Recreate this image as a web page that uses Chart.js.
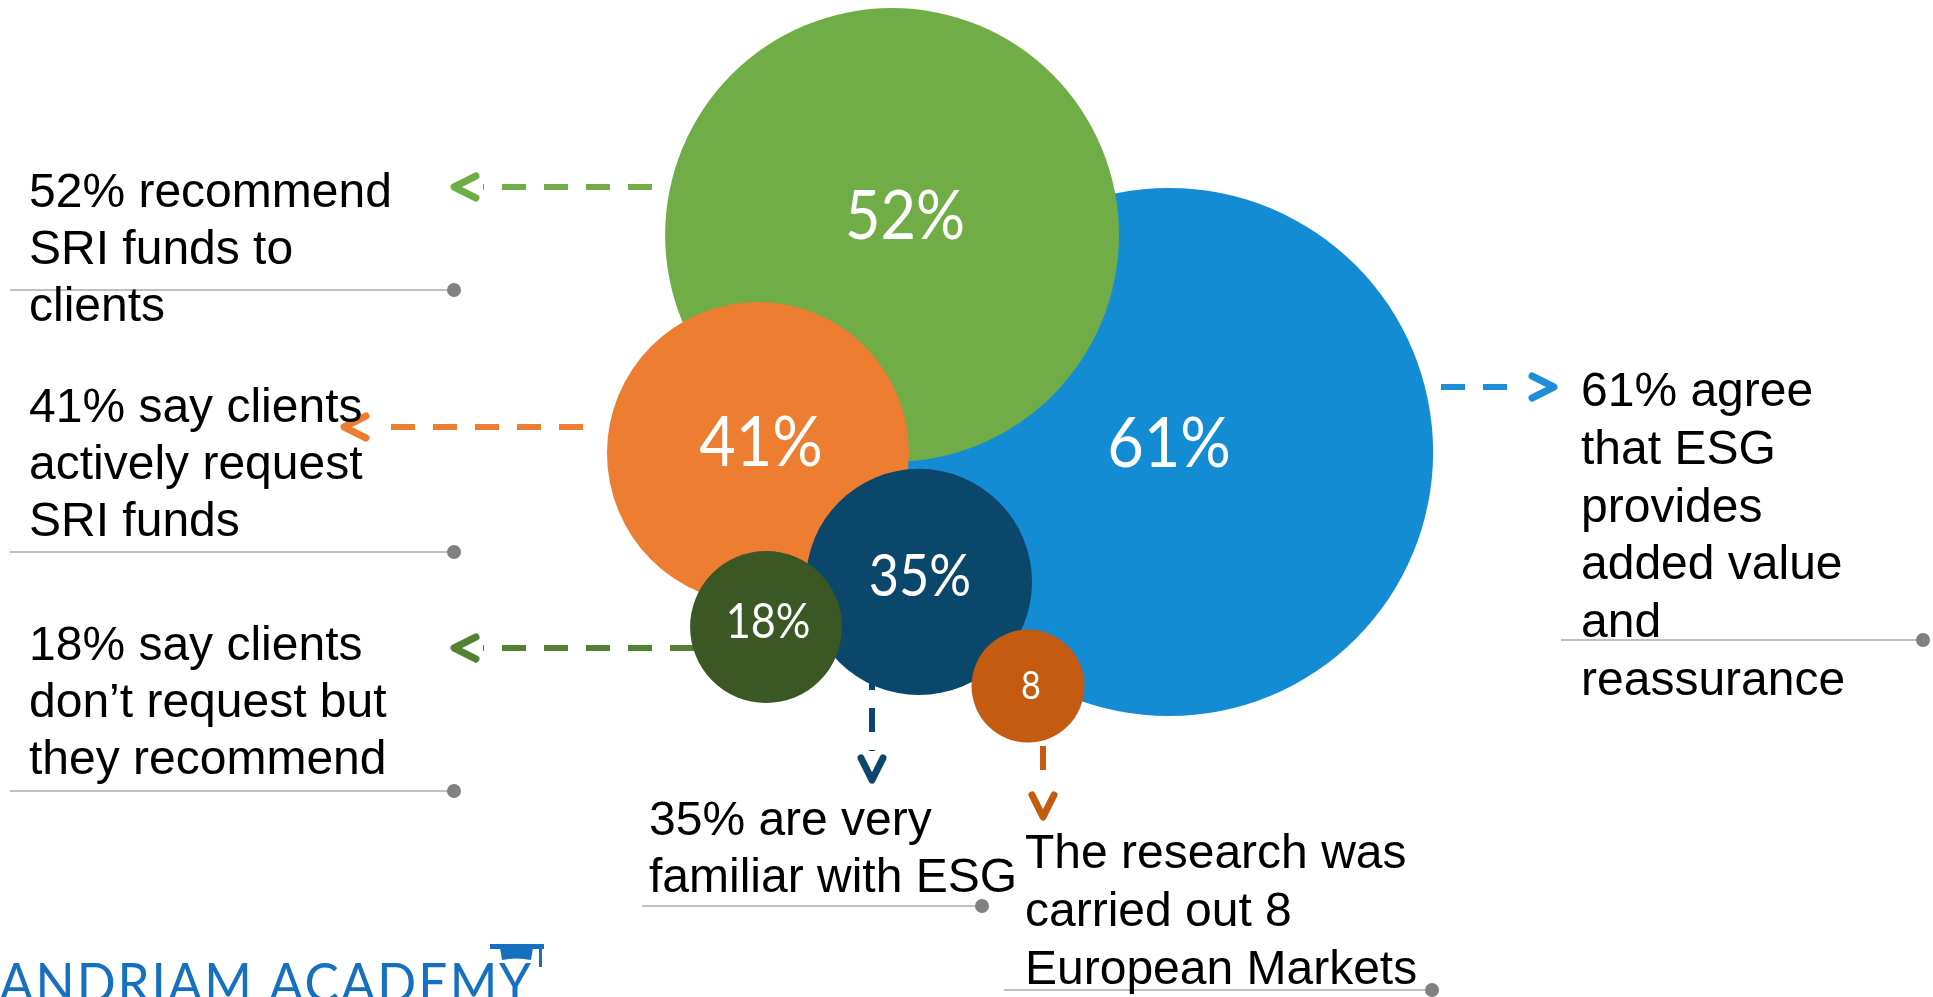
<!DOCTYPE html>
<html>
<head>
<meta charset="utf-8">
<title>ESG survey bubbles</title>
<script src="https://cdn.jsdelivr.net/npm/chart.js@4.4.1/dist/chart.umd.min.js"></script>
<style>
  html, body { margin: 0; padding: 0; background: #fff; overflow: hidden; }
  #wrap { position: relative; width: 1933px; height: 997px; }
</style>
</head>
<body>
<div id="wrap"><canvas id="chart-bubbles"></canvas></div>
<script>
// Survey figures, listed back to front (draw order)
const bubbleLabels = ['61%', '52%', '41%', '35%', '18%', '8'];
const bubbleValues = [61, 52, 41, 35, 18, 8];

const calloutLines = [
  ['61% agree', 'that ESG', 'provides', 'added value', 'and', 'reassurance'],
  ['52% recommend', 'SRI funds to', 'clients'],
  ['41% say clients', 'actively request', 'SRI funds'],
  ['35% are very', 'familiar with ESG'],
  ['18% say clients', 'don\u2019t request but', 'they recommend'],
  ['The research was', 'carried out 8', 'European Markets']
];

// Layout on a 0-100 grid (x across, y down) - placement only, not data
const bubbleX = [60.48, 46.15, 39.21, 47.54, 39.63, 53.18];
const bubbleY = [45.34, 23.57, 45.44, 58.37, 62.89, 68.81];
const bubbleSize = [13.66, 11.74, 7.81, 5.85, 3.93, 2.92];
const bubbleColors = ['#138cd4', '#70ad47', '#ed7d31', '#0a476b', '#3b5724', '#c55a11'];
const labelFont = [70, 68, 70, 58, 48, 38];
const labelShift = [[0, -10], [13, -20], [3, -12], [1, -7], [2, -6], [3, -1]];

// callout placement in px: text origin, grey rule, dashed arrow
const callouts = [
  { x: 1581, y: 406, lh: 57.8, rule: [1561, 1923, 640], arrow: [1441, 387, 1554, 387], color: '#1e8fd6' },
  { x: 29, y: 207, lh: 57, rule: [10, 454, 290], arrow: [652, 187, 454, 187], color: '#70ad47' },
  { x: 29, y: 422, lh: 57, rule: [10, 454, 552], arrow: [583, 427, 344, 427], color: '#ed7d31' },
  { x: 649, y: 835, lh: 57, rule: [642, 982, 906], arrow: [872, 666, 872, 780], color: '#0a476b' },
  { x: 29, y: 660, lh: 57, rule: [10, 454, 791], arrow: [694, 648, 454, 648], color: '#548235' },
  { x: 1025, y: 868, lh: 58, rule: [1004, 1432, 990], arrow: [1043, 746, 1043, 817], color: '#c55a11' }
];

function drawArrow(ctx, a, color) {
  const [x1, y1, x2, y2] = a;
  const len = Math.hypot(x2 - x1, y2 - y1);
  const ux = (x2 - x1) / len, uy = (y2 - y1) / len;
  ctx.save();
  ctx.strokeStyle = color;
  ctx.lineWidth = 6;
  ctx.setLineDash([24, 18]);
  ctx.beginPath();
  ctx.moveTo(x1, y1);
  ctx.lineTo(x2 - ux * 29, y2 - uy * 29);
  ctx.stroke();
  ctx.setLineDash([]);
  ctx.lineWidth = 7;
  ctx.lineCap = 'round';
  ctx.lineJoin = 'round';
  ctx.beginPath();
  ctx.moveTo(x2 - ux * 22 - uy * 11, y2 - uy * 22 + ux * 11);
  ctx.lineTo(x2, y2);
  ctx.lineTo(x2 - ux * 22 + uy * 11, y2 - uy * 22 - ux * 11);
  ctx.stroke();
  ctx.restore();
}

const arrowsPlugin = {
  id: 'arrows',
  beforeDatasetsDraw(chart) {
    const ctx = chart.ctx;
    callouts.forEach(c => drawArrow(ctx, c.arrow, c.color));
  }
};

const calloutPlugin = {
  id: 'callouts',
  afterDatasetsDraw(chart) {
    const ctx = chart.ctx;
    ctx.save();
    // circle labels
    const meta = chart.getDatasetMeta(0);
    meta.data.forEach((el, i) => {
      const size = labelFont[i];
      ctx.save();
      ctx.fillStyle = '#ffffff';
      ctx.font = `${size}px Lato, "Open Sans", sans-serif`;
      ctx.textAlign = 'center';
      ctx.textBaseline = 'alphabetic';
      ctx.translate(el.x + labelShift[i][0], el.y + labelShift[i][1]);
      ctx.scale(0.9, 1);
      ctx.fillText(bubbleLabels[i], 0, size * 0.36);
      ctx.restore();
    });

    // grey rules with dots, then text
    callouts.forEach((c, i) => {
      const [rx1, rx2, ry] = c.rule;
      ctx.strokeStyle = '#bfbfbf';
      ctx.lineWidth = 2;
      ctx.beginPath();
      ctx.moveTo(rx1, ry);
      ctx.lineTo(rx2, ry);
      ctx.stroke();
      ctx.fillStyle = '#808080';
      ctx.beginPath();
      ctx.arc(rx2, ry, 7, 0, Math.PI * 2);
      ctx.fill();

      ctx.fillStyle = '#000000';
      ctx.font = '48px "Liberation Sans", Arial, sans-serif';
      ctx.textAlign = 'left';
      ctx.textBaseline = 'alphabetic';
      calloutLines[i].forEach((line, j) => ctx.fillText(line, c.x, c.y + j * c.lh));
    });

    // logo
    ctx.fillStyle = '#1670c0';
    ctx.font = '54px Lato, "Open Sans", sans-serif';
    ctx.textAlign = 'left';
    ctx.textBaseline = 'alphabetic';
    const logo = 'ANDRIAM ACADEMY';
    ctx.letterSpacing = '2px';
    const w = ctx.measureText(logo).width;
    ctx.save();
    ctx.translate(-1, 1002);
    ctx.scale(534 / w, 1);
    ctx.fillText(logo, 0, 0);
    ctx.restore();
    ctx.letterSpacing = '0px';
    // mortarboard
    ctx.beginPath();
    ctx.rect(490, 944, 54, 5);
    ctx.fill();
    ctx.beginPath();
    ctx.moveTo(500, 948);
    ctx.lineTo(533, 948);
    ctx.lineTo(531, 960);
    ctx.quadraticCurveTo(516, 957, 502, 960);
    ctx.closePath();
    ctx.fill();
    ctx.fillRect(539, 948, 3, 19);
    ctx.restore();
  }
};

const ctx = document.getElementById('chart-bubbles');
new Chart(ctx, {
  type: 'bubble',
  data: {
    datasets: [{
      label: 'Survey results',
      data: bubbleValues.map((v, i) => ({ x: bubbleX[i], y: bubbleY[i], value: v })),
      backgroundColor: bubbleColors,
      borderWidth: 0,
      hoverBorderWidth: 0,
      hoverRadius: 0,
      // bubble size on the same grid as x
      radius: (c) => c.chart.width * bubbleSize[c.dataIndex] / 100,
      clip: false
    }]
  },
  options: {
    responsive: true,
    maintainAspectRatio: false,
    animation: false,
    events: [],
    layout: { padding: 0, autoPadding: false },
    scales: {
      x: { type: 'linear', min: 0, max: 100, display: false },
      y: { type: 'linear', min: 0, max: 100, reverse: true, display: false }
    },
    plugins: {
      legend: { display: false },
      tooltip: { enabled: false }
    }
  },
  plugins: [arrowsPlugin, calloutPlugin]
});
</script>
</body>
</html>
